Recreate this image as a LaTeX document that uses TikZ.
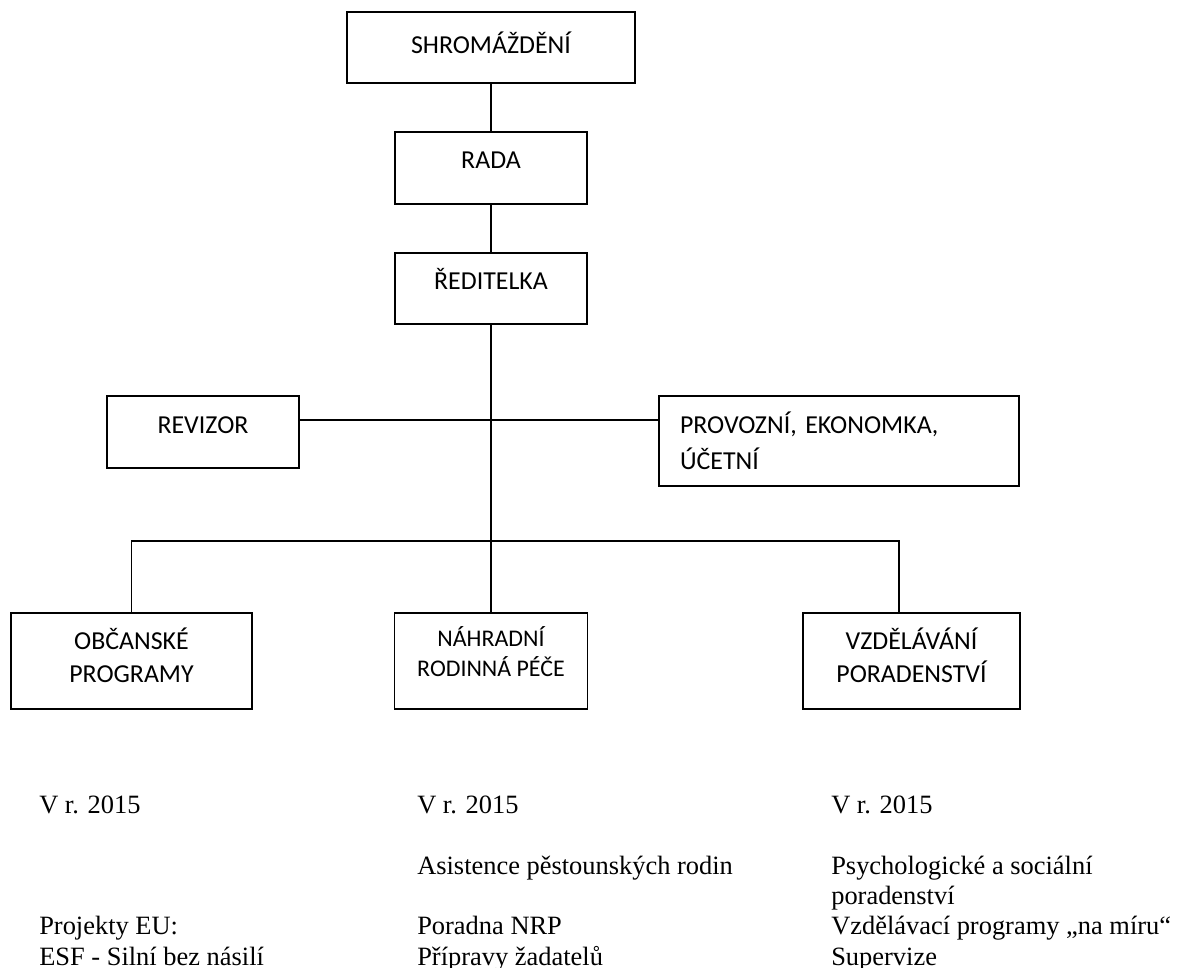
\documentclass[tikz,border=0pt]{standalone}
\usepackage{fontspec}
\setmainfont{Liberation Serif}
\newfontfamily\boxfont{Carlito}

\begin{document}
\begin{tikzpicture}[
    box/.style={draw, line width=1.4pt, inner sep=0pt, font=\boxfont\fontsize{18.4}{23.5}\selectfont},
    link/.style={line width=1.4pt},
    yeartext/.style={anchor=north west, inner sep=0pt, align=left, font=\fontsize{18.8}{21.5}\selectfont}]
    \useasboundingbox (0,0) rectangle (29.475,-24.175);

    % Shromazdeni
    \node[box, minimum width=7.2cm, minimum height=1.775cm, text height=0.53cm, text depth=0.23cm] (shrom) at (12.275,-1.1875) {SHROMÁŽDĚNÍ};

    % Rada
    \node[box, minimum width=4.8cm, minimum height=1.8cm, text height=0.53cm, text depth=0.5cm] (rada) at (12.275,-4.2) {RADA};

    % Reditelka
    \node[box, minimum width=4.8cm, minimum height=1.775cm, text height=0.53cm, text depth=0.49cm] (reditelka) at (12.275,-7.2125) {ŘEDITELKA};

    % Revizor
    \node[box, minimum width=4.8cm, minimum height=1.8cm, text height=0.53cm, text depth=0.45cm] (revizor) at (5.075,-10.8) {REVIZOR};

    % Provozni
    \node[box, minimum width=9cm, minimum height=2.25cm, text width=7.95cm, inner xsep=0.525cm, align=left,
          font=\boxfont\fontsize{18.4}{25.6}\selectfont] (provoz) at (20.975,-11.025) {PROVOZNÍ, EKONOMKA,\\ÚČETNÍ};

    % Obcanske programy
    \node[box, minimum width=6.025cm, minimum height=2.4cm, align=center, text depth=0.3cm] (obcanske) at (3.2875,-16.525) {OBČANSKÉ\\PROGRAMY};

    % Nahradni rodinna pece
    \node[box, minimum width=4.825cm, minimum height=2.4cm, align=center, text depth=0.48cm,
          font=\boxfont\fontsize{17}{21.3}\selectfont] (nahradni) at (12.275,-16.525) {NÁHRADNÍ\\RODINNÁ PÉČE};

    % Vzdelavani poradenstvi
    \node[box, minimum width=5.425cm, minimum height=2.4cm, align=center, text depth=0.28cm] (vzdel) at (22.7875,-16.525) {VZDĚLÁVÁNÍ\\PORADENSTVÍ};

    % Texts below
    \node[yeartext] (col1) at (0.975,-19.90) {V r. 2015\\ \\ \\ \\Projekty EU:\\ESF - Silní bez násilí};
    \node[yeartext] (col2) at (10.425,-19.90) {V r. 2015\\ \\Asistence pěstounských rodin\\ \\Poradna NRP\\Přípravy žadatelů};
    \node[yeartext] (col3) at (20.775,-19.90) {V r. 2015\\ \\Psychologické a sociální\\poradenství\\Vzdělávací programy „na míru“\\Supervize};

    % Lines
    \coordinate (hub) at (12.275,-10.5);
    \coordinate (bar) at (22.475,-13.525);
    \draw[link] (shrom) -- (rada);
    \draw[link] (rada) -- (reditelka);
    \draw[link] (reditelka) -- (nahradni);
    \draw[link] (revizor.east |- hub) -- (provoz.west |- hub);
    \draw[link] (obcanske.north) |- (bar) -- (bar |- vzdel.north);
\end{tikzpicture}
\end{document}
